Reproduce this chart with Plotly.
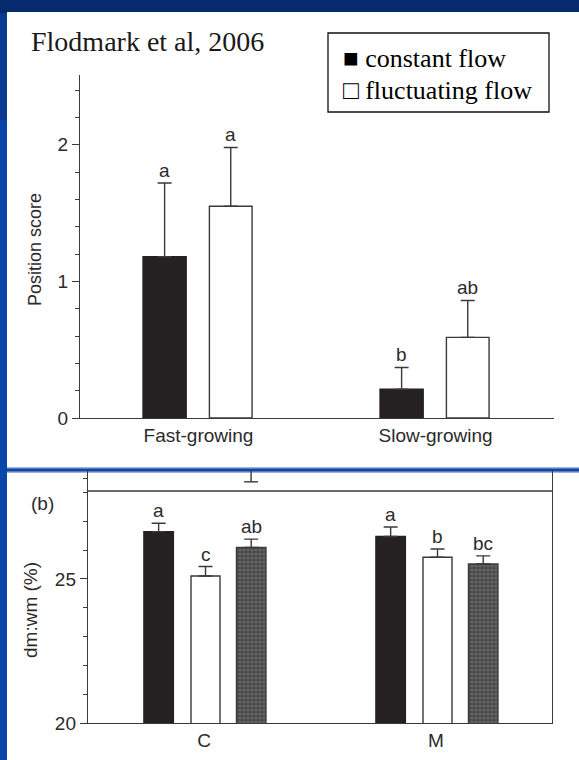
import plotly.graph_objects as go

W, H = 579, 760

# ---------------- Panel (a): position score ----------------
growth_groups = ["Fast-growing", "Slow-growing"]
flow_names = ["constant flow", "fluctuating flow"]
pos_constant = [1.18, 0.21]
pos_constant_se = [0.54, 0.16]
pos_fluct = [1.55, 0.59]
pos_fluct_se = [0.43, 0.27]
pos_letters_constant = ["a", "b"]
pos_letters_fluct = ["a", "ab"]
pos_ticks = [0, 1, 2]
pos_minor_ticks = [0.2, 0.4, 0.6, 0.8, 1.2, 1.4, 1.6, 1.8, 2.2, 2.4]

# ---------------- Panel (b): dm:wm (%) ----------------
diet_groups = ["C", "M"]
dm_black = [26.64, 26.47]
dm_black_se = [0.29, 0.33]
dm_white = [25.10, 25.75]
dm_white_se = [0.33, 0.29]
dm_grey = [26.09, 25.52]
dm_grey_se = [0.29, 0.28]
dm_letters_black = ["a", "a"]
dm_letters_white = ["c", "b"]
dm_letters_grey = ["ab", "bc"]
dm_ticks = [20, 25]
dm_minor_ticks = [21, 22, 23, 24, 26, 27, 28, 28.5]

title_text = "Flodmark et al, 2006"


def px(x):
    return x / W


def py(y):
    return 1 - y / H


SANS = "Liberation Sans, Arial, sans-serif"
SERIF = "Liberation Serif, Times New Roman, serif"
INK = "#2b2b2b"
BLACKBAR = "#252122"
LINE = "#3a3a3a"

fig = go.Figure()
annotations = []


def add_bars(xref, yref, cats, vals, se, letters, offset, width, fill, pattern=None):
    marker = dict(color=fill, line=dict(color=LINE if fill != BLACKBAR else BLACKBAR, width=1.4))
    if pattern:
        marker["pattern"] = pattern
    fig.add_trace(go.Bar(
        x=cats, y=vals, xaxis=xref, yaxis=yref,
        offset=offset, width=width, marker=marker,
        error_y=dict(type="data", array=se, arrayminus=[0] * len(se), symmetric=False,
                     color=LINE, thickness=1.4, width=7),
        showlegend=False, hoverinfo="skip",
    ))
    for i, (v, s, t) in enumerate(zip(vals, se, letters)):
        annotations.append(dict(
            x=i + offset + width / 2, y=v + s, xref=xref, yref=yref,
            text=t, showarrow=False, yanchor="bottom", xanchor="center", yshift=0,
            font=dict(family=SANS, size=19, color=INK),
        ))


# Panel (a)
add_bars("x", "y", growth_groups, pos_constant, pos_constant_se, pos_letters_constant,
         -0.234, 0.182, BLACKBAR)
add_bars("x", "y", growth_groups, pos_fluct, pos_fluct_se, pos_letters_fluct,
         0.046, 0.18, "white")

# Panel (b)
add_bars("x2", "y2", diet_groups, dm_black, dm_black_se, dm_letters_black,
         -0.259, 0.127, BLACKBAR)
add_bars("x2", "y2", diet_groups, dm_white, dm_white_se, dm_letters_white,
         -0.056, 0.125, "white")
add_bars("x2", "y2", diet_groups, dm_grey, dm_grey_se, dm_letters_grey,
         0.14, 0.127, "#555555",
         pattern=dict(shape=".", fgcolor="#2a2a2a", bgcolor="#616161", size=4, solidity=0.5))

# ---------------- background shapes ----------------
shapes = [
    # blue frame
    dict(type="rect", xref="paper", yref="paper", x0=0, x1=1, y0=0, y1=1,
         fillcolor="#0a45ac", line=dict(width=0), layer="below"),
    dict(type="rect", xref="paper", yref="paper", x0=0, x1=1, y0=py(13), y1=1,
         fillcolor="#062a6c", line=dict(width=0), layer="below"),
    dict(type="rect", xref="paper", yref="paper", x0=0, x1=px(8), y0=py(120), y1=py(13),
         fillcolor="#083a92", line=dict(width=0), layer="below"),
    # white panels
    dict(type="rect", xref="paper", yref="paper", x0=px(7), x1=1, y0=py(467), y1=py(12),
         fillcolor="white", line=dict(width=0), layer="below"),
    dict(type="rect", xref="paper", yref="paper", x0=px(7), x1=1, y0=0, y1=py(473),
         fillcolor="white", line=dict(width=0), layer="below"),
    # separator line
    dict(type="rect", xref="paper", yref="paper", x0=px(7), x1=1, y0=py(473), y1=py(467),
         fillcolor="#9cb6e0", line=dict(width=0), layer="below"),
    dict(type="rect", xref="paper", yref="paper", x0=px(7), x1=1, y0=py(471.5), y1=py(468.5),
         fillcolor="#1546a4", line=dict(width=0), layer="below"),
    # legend box
    dict(type="rect", xref="paper", yref="paper", x0=px(328), x1=px(549), y0=py(112), y1=py(33),
         fillcolor="white", line=dict(color="#111111", width=1.3)),
    # panel (b) upper frame line (bottom of cropped upper panel)
    dict(type="line", xref="x2 domain", yref="y2", x0=0, x1=1, y0=28.05, y1=28.05,
         line=dict(color=LINE, width=1.4)),
    # cropped error bar from panel above
    dict(type="line", xref="x2", yref="y2", x0=0.203, x1=0.203, y0=28.37, y1=28.78,
         line=dict(color=LINE, width=1.4)),
    dict(type="line", xref="x2", yref="y2", x0=0.173, x1=0.233, y0=28.37, y1=28.37,
         line=dict(color=LINE, width=1.4)),
]

annotations += [
    dict(x=px(29), y=py(42), xref="paper", yref="paper", text=title_text, showarrow=False,
         xanchor="left", yanchor="middle", font=dict(family=SERIF, size=28, color="#1a1a1a")),
    dict(x=px(341), y=py(59), xref="paper", yref="paper", text="\u25a0 " + flow_names[0],
         showarrow=False, xanchor="left", yanchor="middle",
         font=dict(family=SERIF, size=26, color="#000000")),
    dict(x=px(341), y=py(91), xref="paper", yref="paper", text="\u25a1 " + flow_names[1],
         showarrow=False, xanchor="left", yanchor="middle",
         font=dict(family=SERIF, size=26, color="#000000")),
    dict(x=px(35), y=py(250), xref="paper", yref="paper", text="Position score", textangle=-90,
         showarrow=False, xanchor="center", yanchor="middle",
         font=dict(family=SANS, size=18, color=INK)),
    dict(x=px(30), y=py(610), xref="paper", yref="paper", text="dm:wm (%)", textangle=-90,
         showarrow=False, xanchor="center", yanchor="middle",
         font=dict(family=SANS, size=19, color=INK)),
    dict(x=px(42), y=py(503), xref="paper", yref="paper", text="(b)",
         showarrow=False, xanchor="center", yanchor="middle",
         font=dict(family=SANS, size=19, color=INK)),
]

axis_common = dict(showgrid=False, zeroline=False, fixedrange=True, automargin=False,
                   linecolor=LINE, linewidth=1.4, tickcolor=LINE, tickwidth=1.3,
                   tickfont=dict(family=SANS, size=19, color=INK))

fig.update_layout(
    width=W, height=H, margin=dict(l=0, r=0, t=0, b=0, autoexpand=False),
    paper_bgcolor="#0a45ac", plot_bgcolor="rgba(0,0,0,0)",
    showlegend=False, barmode="overlay",
    shapes=shapes, annotations=annotations,
    xaxis=dict(domain=[px(80), px(554)], anchor="y", type="category", range=[-0.5, 1.5],
               showline=True, ticks="", **axis_common),
    yaxis=dict(domain=[py(418), py(75)], anchor="x", range=[0, 2.51],
               showline=True, ticks="outside", ticklen=7, tickmode="array", tickvals=pos_ticks,
               minor=dict(tickmode="array", tickvals=pos_minor_ticks, ticks="outside",
                          ticklen=4, tickcolor=LINE, tickwidth=1.2),
               **axis_common),
    xaxis2=dict(domain=[px(88), px(552)], anchor="y2", type="category", range=[-0.5, 1.5],
                showline=True, ticks="", **axis_common),
    yaxis2=dict(domain=[py(723), py(470)], anchor="x2", range=[20, 28.78],
                showline=True, mirror=True, ticks="outside", ticklen=7,
                tickmode="array", tickvals=dm_ticks,
                minor=dict(tickmode="array", tickvals=dm_minor_ticks, ticks="outside",
                           ticklen=4, tickcolor=LINE, tickwidth=1.2),
                **axis_common),
)

fig.write_html("out.html")
